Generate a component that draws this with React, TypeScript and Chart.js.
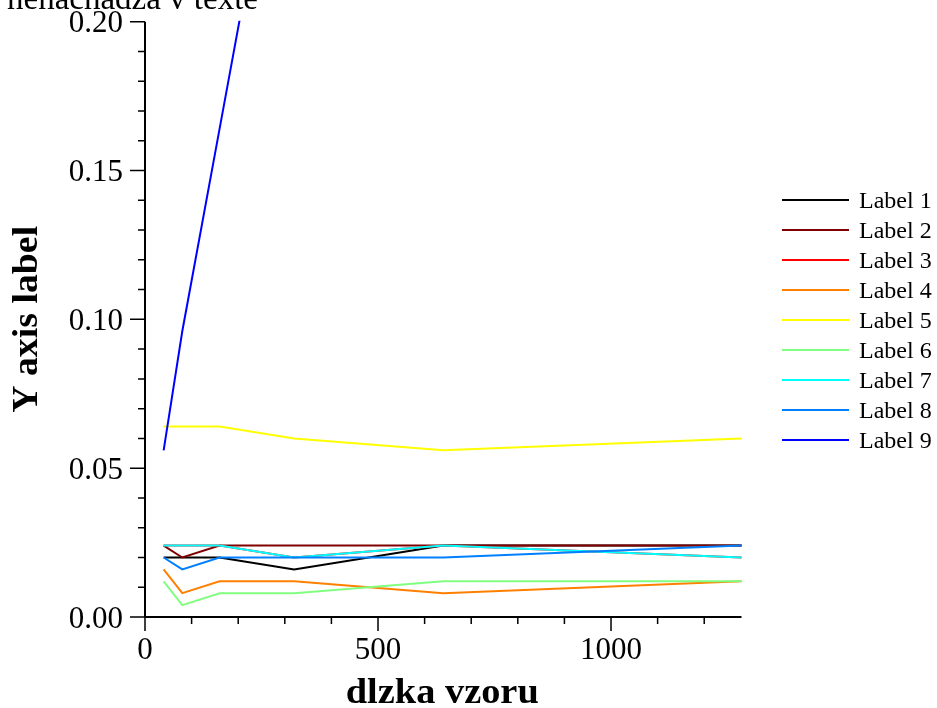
import React, { useEffect, useRef } from "react";
import { Chart, registerables } from "chart.js";

Chart.register(...registerables);

const xValues = [40, 80, 160, 320, 640, 1280];
const label1 = [0.02, 0.02, 0.02, 0.016, 0.024, 0.024];
const label2 = [0.024, 0.02, 0.024, 0.024, 0.024, 0.024];
const label3 = [0.024, 0.024, 0.024, 0.02, 0.024, 0.02];
const label4 = [0.016, 0.008, 0.012, 0.012, 0.008, 0.012];
const label5 = [0.064, 0.064, 0.064, 0.06, 0.056, 0.06];
const label6 = [0.012, 0.004, 0.008, 0.008, 0.012, 0.012];
const label7 = [0.024, 0.024, 0.024, 0.02, 0.024, 0.02];
const label8 = [0.02, 0.016, 0.02, 0.02, 0.02, 0.024];
const label9 = [0.056, 0.096, 0.164, 0.3, 0.57, 1.12];

const seriesNames = ["Label 1", "Label 2", "Label 3", "Label 4", "Label 5", "Label 6", "Label 7", "Label 8", "Label 9"];
const seriesValues = [label1, label2, label3, label4, label5, label6, label7, label8, label9];
const seriesColors = ["#000000", "#800000", "#ff0000", "#ff8000", "#ffff00", "#80ff80", "#00ffff", "#0080ff", "#0000ff"];

const xMajorTicks = [0, 500, 1000];
const xMinorTicks = [100, 200, 300, 400, 600, 700, 800, 900, 1100, 1200];
const yMajorTicks = [0, 0.05, 0.1, 0.15, 0.2];
const yMinorTicks = [0.01, 0.02, 0.03, 0.04, 0.06, 0.07, 0.08, 0.09, 0.11, 0.12, 0.13, 0.14, 0.16, 0.17, 0.18, 0.19];
const yTickLabels = ["0.00", "0.05", "0.10", "0.15", "0.20"];
const xTickLabels = ["0", "500", "1000"];

const titleText = "nenachadza v texte";
const xTitle = "dlzka vzoru";
const yTitle = "Y axis label";

const SERIF = "'Liberation Serif', 'Times New Roman', serif";

function drawStretched(ctx: CanvasRenderingContext2D, text: string, x: number, y: number, width: number) {
  const w = ctx.measureText(text).width;
  const s = width / w;
  ctx.save();
  ctx.translate(x, y);
  ctx.scale(s, 1);
  ctx.textAlign = "center";
  ctx.fillText(text, 0, 0);
  ctx.restore();
}

const decorPlugin = {
  id: "decor",
  afterDraw(chart: any) {
    const ctx: CanvasRenderingContext2D = chart.ctx;
    const xs = chart.scales.x;
    const ys = chart.scales.y;
    const area = chart.chartArea;
    const x0 = xs.getPixelForValue(0);
    const y0 = ys.getPixelForValue(0);
    const yTop = ys.getPixelForValue(0.2);
    const xEnd = xs.getPixelForValue(1280);
    ctx.save();
    ctx.strokeStyle = "#000";
    ctx.fillStyle = "#000";
    // axes
    ctx.lineWidth = 2;
    ctx.beginPath();
    ctx.moveTo(x0, yTop);
    ctx.lineTo(x0, y0);
    ctx.moveTo(x0, y0);
    ctx.lineTo(xEnd, y0);
    ctx.stroke();
    // ticks
    ctx.lineWidth = 1.5;
    ctx.beginPath();
    for (const v of xMajorTicks) {
      const p = xs.getPixelForValue(v);
      ctx.moveTo(p, y0);
      ctx.lineTo(p, y0 + 14);
    }
    for (const v of xMinorTicks) {
      const p = xs.getPixelForValue(v);
      ctx.moveTo(p, y0);
      ctx.lineTo(p, y0 + 7);
    }
    for (const v of yMajorTicks) {
      const p = ys.getPixelForValue(v);
      ctx.moveTo(x0, p);
      ctx.lineTo(x0 - 15, p);
    }
    for (const v of yMinorTicks) {
      const p = ys.getPixelForValue(v);
      ctx.moveTo(x0, p);
      ctx.lineTo(x0 - 7, p);
    }
    ctx.stroke();
    // tick labels
    ctx.font = `31px ${SERIF}`;
    ctx.textBaseline = "alphabetic";
    ctx.textAlign = "center";
    xMajorTicks.forEach((v, i) => {
      ctx.fillText(xTickLabels[i], xs.getPixelForValue(v), y0 + 42);
    });
    ctx.textAlign = "right";
    yMajorTicks.forEach((v, i) => {
      ctx.fillText(yTickLabels[i], x0 - 22, ys.getPixelForValue(v) + 10.5);
    });
    // axis titles
    ctx.font = `bold 35px ${SERIF}`;
    drawStretched(ctx, xTitle, (area.left + area.right) / 2 - 1, 702.5, 193);
    ctx.save();
    ctx.translate(36.5, (yTop + y0) / 2);
    ctx.rotate(-Math.PI / 2);
    drawStretched(ctx, yTitle, 0, 0, 187);
    ctx.restore();
    // title (cut off at top)
    ctx.font = `33px ${SERIF}`;
    ctx.textAlign = "right";
    ctx.fillText(titleText, 258, 8.5);
    // legend
    ctx.font = `24px ${SERIF}`;
    ctx.textAlign = "left";
    chart.data.datasets.forEach((ds: any, i: number) => {
      const y = 200 + i * 30;
      ctx.strokeStyle = ds.borderColor;
      ctx.lineWidth = 2;
      ctx.beginPath();
      ctx.moveTo(782, y);
      ctx.lineTo(849, y);
      ctx.stroke();
      ctx.fillStyle = "#000";
      ctx.fillText(ds.label, 859, y + 8.3);
    });
    ctx.restore();
  },
};

export default function App() {
  const ref = useRef<HTMLCanvasElement | null>(null);
  useEffect(() => {
    document.body.style.margin = "0";
    const canvas = ref.current;
    if (!canvas) return;
    const chart = new Chart(canvas, {
      type: "line",
      data: {
        datasets: seriesNames.map((name, i) => ({
          label: name,
          data: xValues.map((x, j) => ({ x, y: seriesValues[i][j] })),
          borderColor: seriesColors[i],
          backgroundColor: seriesColors[i],
          borderWidth: 2,
          pointRadius: 0,
          tension: 0,
          fill: false,
          order: seriesNames.length - i,
          clip: { left: false, right: false, bottom: false, top: 1 } as any,
        })),
      },
      options: {
        animation: false,
        responsive: false,
        maintainAspectRatio: false,
        layout: { padding: { left: 145, right: 195.5, top: 21.7, bottom: 91 } },
        plugins: { legend: { display: false }, tooltip: { enabled: false }, title: { display: false } },
        scales: {
          x: {
            type: "linear",
            display: false,
            min: 0,
            max: 1280,
          },
          y: {
            type: "linear",
            display: false,
            min: 0,
            max: 0.2,
          },
        },
      },
      plugins: [decorPlugin],
    });
    return () => chart.destroy();
  }, []);
  return <canvas ref={ref} width={937} height={708} style={{ display: "block" }} />;
}
